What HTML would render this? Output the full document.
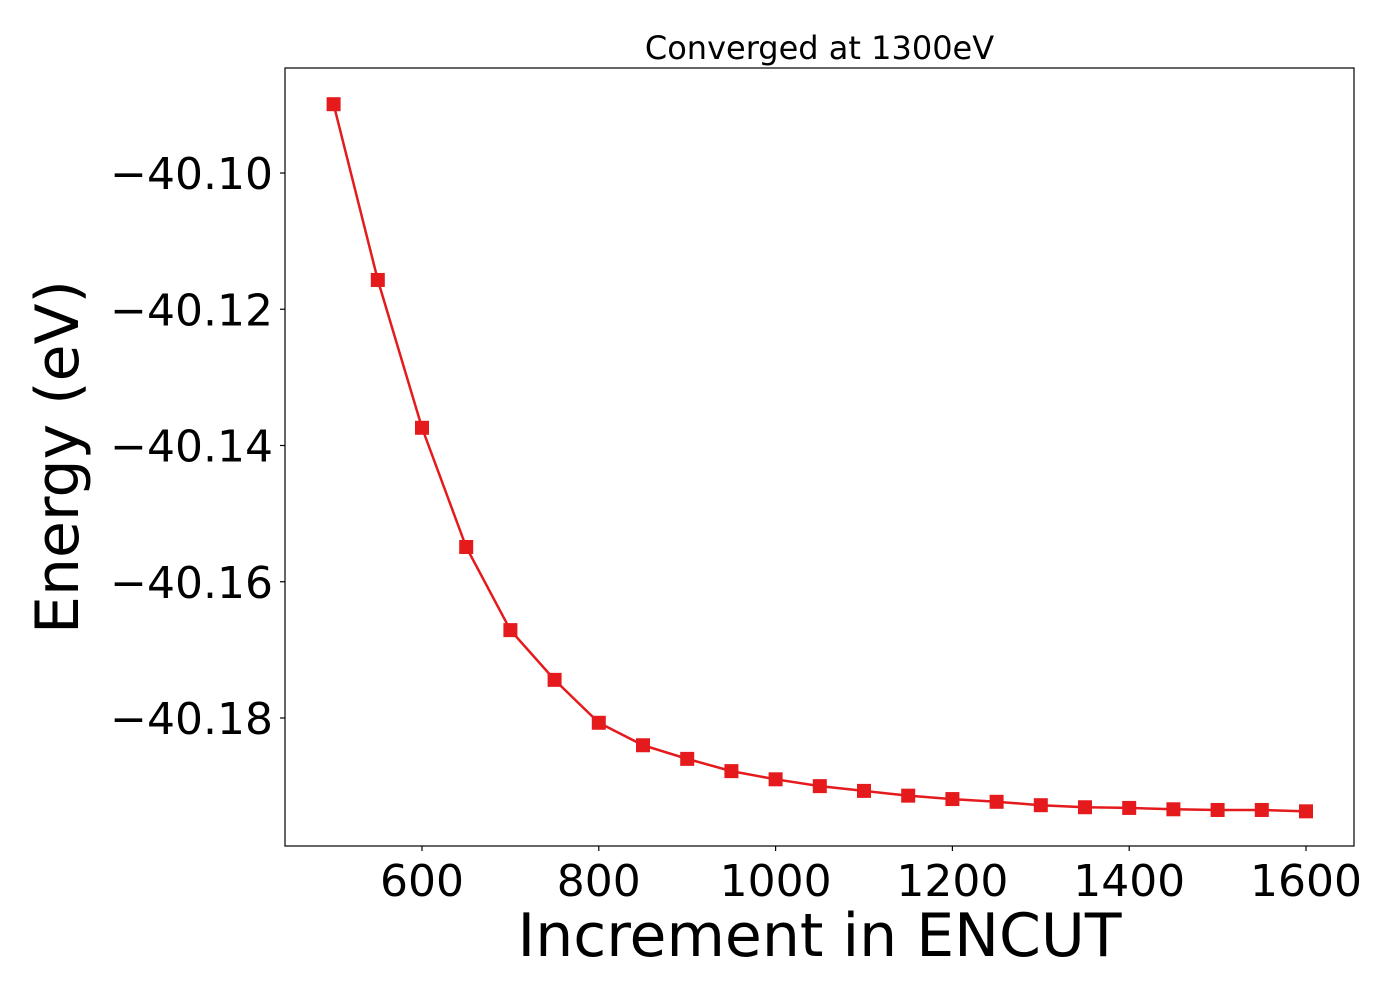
<!DOCTYPE html>
<html><head><meta charset="utf-8"><style>
html,body{margin:0;padding:0;background:#fff;}
svg{display:block;font-family:"DejaVu Sans","Liberation Sans",sans-serif;}
</style></head><body>
<svg id="chart" width="1400" height="1000" xmlns="http://www.w3.org/2000/svg"></svg>
<script>
const xValues=[500,550,600,650,700,750,800,850,900,950,1000,1050,1100,1150,1200,1250,1300,1350,1400,1450,1500,1550,1600];
const yValues=[-40.0899,-40.1157,-40.1374,-40.1549,-40.1671,-40.1744,-40.1807,-40.1840,-40.1860,-40.1878,-40.1890,-40.1900,-40.1907,-40.1914,-40.1919,-40.1923,-40.1928,-40.1931,-40.1932,-40.1934,-40.1935,-40.1935,-40.1937];
const xTicks=[600,800,1000,1200,1400,1600];
const yTicks=[-40.10,-40.12,-40.14,-40.16,-40.18];
const yTickLabels=["\u221240.10","\u221240.12","\u221240.14","\u221240.16","\u221240.18"];
const ns="http://www.w3.org/2000/svg";
const svg=document.getElementById('chart');
const L=285,R=1354,T=68,B=846;
function X(v){return 422+(v-600)*(1306-422)/1000;}
function Y(v){return 173+(-40.10-v)/0.02*136.25;}
function mk(tag,attrs,parent){const e=document.createElementNS(ns,tag);for(const k in attrs)e.setAttribute(k,attrs[k]);(parent||svg).appendChild(e);return e;}
const frame=mk('rect',{x:L,y:T,width:R-L,height:B-T,fill:'none',stroke:'#000','stroke-width':1.2});


xTicks.forEach(v=>{
  const t=mk('line',{x1:X(v),x2:X(v),y1:B,y2:B+5,stroke:'#000','stroke-width':1.2});
  
  
  const l=mk('text',{x:X(v),y:B+50,'text-anchor':'middle','font-size':44});
  l.textContent=v;
  
  
});
yTicks.forEach((v,i)=>{
  const t=mk('line',{x1:L-5,x2:L,y1:Y(v),y2:Y(v),stroke:'#000','stroke-width':1.2});
  
  
  const l=mk('text',{x:L-12,y:Y(v)+16,'text-anchor':'end','font-size':44});
  l.textContent=yTickLabels[i];
  
  
});
const pts=xValues.map((x,i)=>X(x)+','+Y(yValues[i])).join(' ');
const line=mk('polyline',{points:pts,fill:'none',stroke:'#e41a1c','stroke-width':2.5});


xValues.forEach((x,i)=>{
  const m=mk('rect',{x:X(x)-7,y:Y(yValues[i])-7,width:14,height:14,fill:'#e41a1c'});
  
  
});
const title=mk('text',{x:(L+R)/2,y:59,'text-anchor':'middle','font-size':32});
title.textContent='Converged at 1300eV';


const xt=mk('text',{x:(L+R)/2,y:956,'text-anchor':'middle','font-size':60});
xt.textContent='Increment in ENCUT';


const yt=mk('text',{x:0,y:0,'text-anchor':'middle','font-size':60,transform:'translate(78,457) rotate(-90)'});
yt.textContent='Energy (eV)';


</script>
</body></html>
